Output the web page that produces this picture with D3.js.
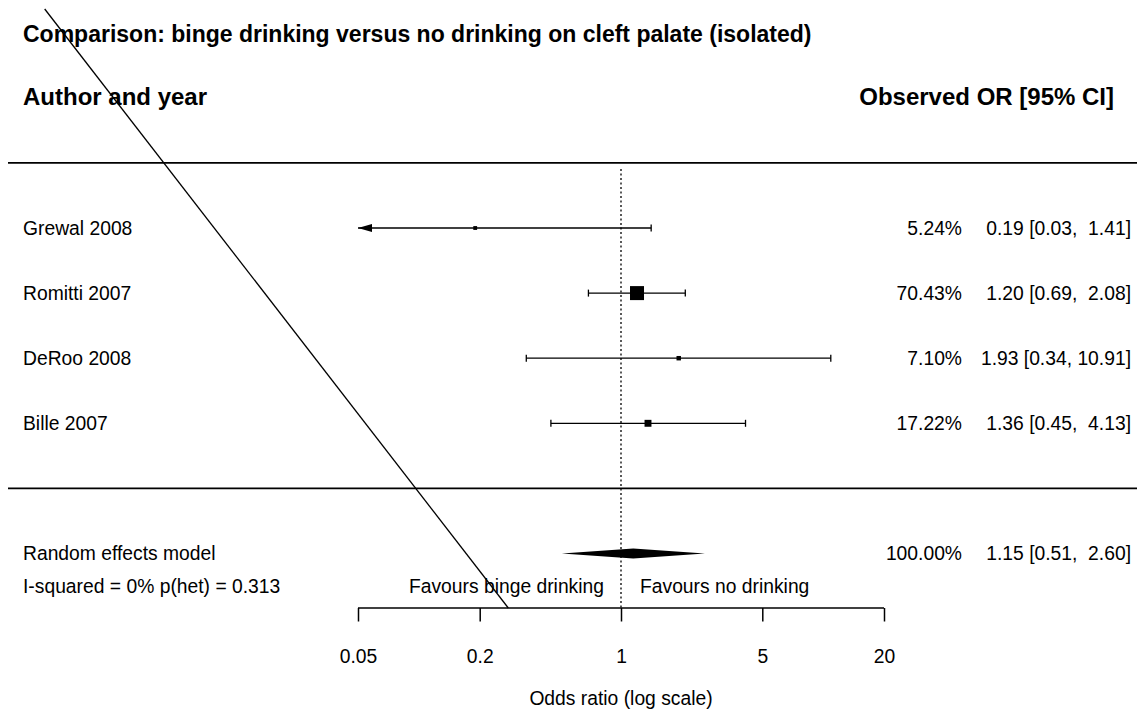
<!DOCTYPE html>
<html>
<head>
<meta charset="utf-8">
<script src="https://cdn.jsdelivr.net/npm/d3@7"></script>
<style>
  html, body { margin: 0; padding: 0; background: #fff; }
  svg { display: block; }
  text { font-family: "Liberation Sans", Arial, sans-serif; fill: #000; white-space: pre; }
</style>
</head>
<body>
<svg id="chart" width="1137" height="710"></svg>
<script>
// Study-level data
const studies   = ["Grewal 2008", "Romitti 2007", "DeRoo 2008", "Bille 2007"];
const estimates = [0.19, 1.20, 1.93, 1.36];
const lowerCI   = [0.03, 0.69, 0.34, 0.45];
const upperCI   = [1.41, 2.08, 10.91, 4.13];
const weights   = [5.24, 70.43, 7.10, 17.22];

// Pooled (random effects) estimate
const pooledLabel = "Random effects model";
const pooledEst   = 1.15;
const pooledLower = 0.51;
const pooledUpper = 2.60;
const pooledWeight = 100.00;
const hetLabel    = "I-squared = 0% p(het) = 0.313";

// Axis
const tickValues = [0.05, 0.2, 1, 5, 20];
const axisTitle  = "Odds ratio (log scale)";
const titleText  = "Comparison: binge drinking versus no drinking on cleft palate (isolated)";
const leftHeader = "Author and year";
const rightHeader = "Observed OR [95% CI]";
const favoursLeft = "Favours binge drinking";
const favoursRight = "Favours no drinking";

const W = 1137, H = 710;
const FS = 19.3;        // body text
const FS_TITLE = 23;    // bold title
const FS_HEAD = 24;     // bold column headers
const svg = d3.select("#chart");

// Scales
const x = d3.scaleLog().domain([0.05, 20]).range([358, 884]);
const y = d3.scaleLinear().domain([0, 5]).range([228, 553.5]); // row index -> pixel
const sz = d3.scaleSqrt().domain([0, d3.max(weights)]).range([0, 14]);

const f2 = d3.format(".2f");
const ciText = (e, l, u) => `${f2(e)} [${f2(l)}, ${f2(u).padStart(5, " ")}]`;
const capOff = FS * 0.36;

// Stray diagonal stroke across the left of the plot
const axisY = 608;
svg.append("line")
  .attr("x1", 44.7).attr("y1", 9)
  .attr("x2", 508.3).attr("y2", axisY)
  .attr("stroke", "#000").attr("stroke-width", 1.3);

// Title and headers
svg.append("text").attr("x", 23).attr("y", 41.5)
  .attr("font-size", FS_TITLE).attr("font-weight", "bold").text(titleText);
svg.append("text").attr("x", 23).attr("y", 105)
  .attr("font-size", FS_HEAD).attr("font-weight", "bold").text(leftHeader);
svg.append("text").attr("x", 1114).attr("y", 105)
  .attr("text-anchor", "end")
  .attr("font-size", FS_HEAD).attr("font-weight", "bold").text(rightHeader);

// Horizontal separators
[-1, 4].forEach(r => {
  svg.append("line")
    .attr("x1", 8).attr("x2", W)
    .attr("y1", y(r)).attr("y2", y(r))
    .attr("stroke", "#000").attr("stroke-width", 1.6);
});

// Reference line at OR = 1
svg.append("line")
  .attr("x1", x(1)).attr("x2", x(1))
  .attr("y1", y(-1) + 6).attr("y2", axisY)
  .attr("stroke", "#000").attr("stroke-width", 1.3)
  .attr("stroke-dasharray", "2,2.5");

// Study rows
const dmin = x.domain()[0], dmax = x.domain()[1];
studies.forEach((name, i) => {
  const yy = y(i);
  const lo = lowerCI[i], hi = upperCI[i];
  const xl = x(Math.max(lo, dmin)), xh = x(Math.min(hi, dmax));
  const g = svg.append("g");
  g.append("line").attr("x1", xl).attr("x2", xh).attr("y1", yy).attr("y2", yy)
    .attr("stroke", "#000").attr("stroke-width", 1.3);
  if (lo < dmin) {
    g.append("path")
      .attr("d", `M${xl},${yy} L${xl + 14},${yy - 4} L${xl + 14},${yy + 4} Z`)
      .attr("fill", "#000");
  } else {
    g.append("line").attr("x1", xl).attr("x2", xl).attr("y1", yy - 3.5).attr("y2", yy + 3.5)
      .attr("stroke", "#000").attr("stroke-width", 1.3);
  }
  if (hi > dmax) {
    g.append("path")
      .attr("d", `M${xh},${yy} L${xh - 14},${yy - 4} L${xh - 14},${yy + 4} Z`)
      .attr("fill", "#000");
  } else {
    g.append("line").attr("x1", xh).attr("x2", xh).attr("y1", yy - 3.5).attr("y2", yy + 3.5)
      .attr("stroke", "#000").attr("stroke-width", 1.3);
  }
  const s = sz(weights[i]);
  g.append("rect")
    .attr("x", x(estimates[i]) - s / 2).attr("y", yy - s / 2)
    .attr("width", s).attr("height", s).attr("fill", "#000");

  svg.append("text").attr("x", 23).attr("y", yy + capOff)
    .attr("font-size", FS).text(name);
  svg.append("text").attr("x", 962).attr("y", yy + capOff)
    .attr("text-anchor", "end").attr("font-size", FS)
    .text(f2(weights[i]) + "%");
  svg.append("text").attr("x", 1131).attr("y", yy + capOff)
    .attr("text-anchor", "end").attr("font-size", FS)
    .text(ciText(estimates[i], lowerCI[i], upperCI[i]));
});

// Pooled diamond
const py = y(5);
svg.append("path")
  .attr("d", `M${x(pooledLower)},${py} L${x(pooledEst)},${py - 5} L${x(pooledUpper)},${py} L${x(pooledEst)},${py + 5} Z`)
  .attr("fill", "#000");
svg.append("text").attr("x", 23).attr("y", py + capOff)
  .attr("font-size", FS).text(pooledLabel);
svg.append("text").attr("x", 962).attr("y", py + capOff)
  .attr("text-anchor", "end").attr("font-size", FS)
  .text(f2(pooledWeight) + "%");
svg.append("text").attr("x", 1131).attr("y", py + capOff)
  .attr("text-anchor", "end").attr("font-size", FS)
  .text(ciText(pooledEst, pooledLower, pooledUpper));

// Heterogeneity and favours labels
svg.append("text").attr("x", 23).attr("y", y(5.5) + capOff)
  .attr("font-size", FS).text(hetLabel);
svg.append("text").attr("x", x(1) - 17).attr("y", y(5.5) + capOff)
  .attr("text-anchor", "end").attr("font-size", FS).text(favoursLeft);
svg.append("text").attr("x", x(1) + 19).attr("y", y(5.5) + capOff)
  .attr("font-size", FS).text(favoursRight);

// Bottom axis
const axis = d3.axisBottom(x).tickValues(tickValues)
  .tickFormat(d => String(d)).tickSize(13.5).tickPadding(24);
const ag = svg.append("g").attr("transform", `translate(0,${axisY})`).call(axis);
ag.select(".domain").attr("d", `M${x(dmin)},0H${x(dmax)}`).attr("stroke", "#000").attr("stroke-width", 1.5);
ag.selectAll(".tick line").attr("stroke", "#000").attr("stroke-width", 1.5);
ag.selectAll(".tick text")
  .attr("font-family", "Liberation Sans, Arial, sans-serif")
  .attr("font-size", FS).attr("fill", "#000").attr("dy", null).attr("y", 54.7);

svg.append("text").attr("x", x(1)).attr("y", 705)
  .attr("text-anchor", "middle").attr("font-size", FS).text(axisTitle);
</script>
</body>
</html>
